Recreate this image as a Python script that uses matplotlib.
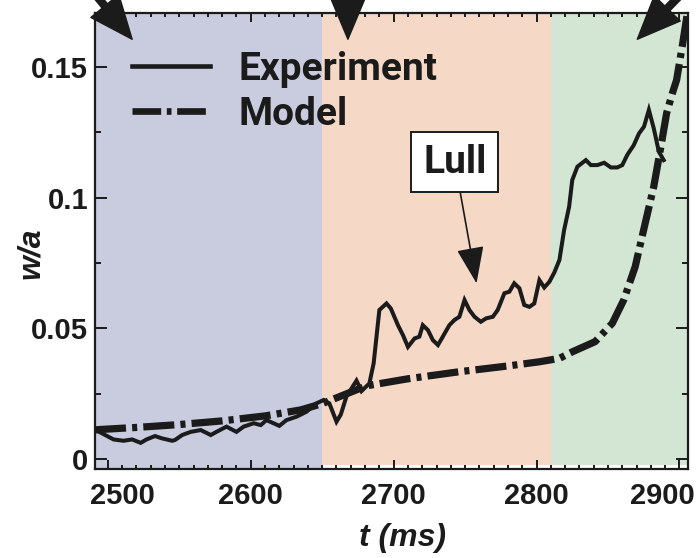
import matplotlib
matplotlib.use("Agg")
import matplotlib.pyplot as plt
import matplotlib.transforms as mtransforms
from matplotlib.lines import Line2D
import numpy as np

# ---------------- data ----------------
exp_t = [2491, 2494, 2504, 2511, 2517, 2523, 2527, 2533, 2538, 2545, 2547, 2552,
         2558, 2565, 2572, 2576, 2583, 2590, 2595, 2602, 2607, 2611, 2620, 2625,
         2632, 2639, 2646, 2651, 2655, 2660, 2663, 2667, 2674, 2677.5, 2683, 2686,
         2688, 2690, 2695, 2698, 2703, 2706.5, 2710, 2714.6, 2718, 2720.4, 2724,
         2727.4, 2731, 2734.4, 2737, 2739, 2742.6, 2746, 2749.6, 2753, 2756.6,
         2761, 2764.7, 2769.4, 2772.8, 2777.5, 2781, 2784.4, 2788, 2791.4, 2795,
         2798.4, 2802, 2805.4, 2809, 2812.4, 2816, 2819.3, 2822.8, 2825, 2828.6,
         2834.5, 2838, 2842.6, 2847.3, 2852, 2856.5, 2860, 2863.5, 2868, 2871.7,
         2875.2, 2878.6, 2882, 2885.6, 2889]
exp_w = [0.0110, 0.0104, 0.0075, 0.0070, 0.0075, 0.0062, 0.0075, 0.0088, 0.0079,
         0.0070, 0.0073, 0.0092, 0.0104, 0.0111, 0.0092, 0.0104, 0.0124, 0.0104,
         0.0124, 0.0137, 0.0130, 0.0149, 0.0127, 0.0149, 0.0162, 0.0181, 0.0213,
         0.0226, 0.0213, 0.0143, 0.0170, 0.0240, 0.0300, 0.0260, 0.0289, 0.0366,
         0.0468, 0.0570, 0.0595, 0.0576, 0.0512, 0.0474, 0.0429, 0.0461, 0.0468,
         0.0512, 0.0493, 0.0455, 0.0436, 0.0468, 0.0493, 0.0512, 0.0532, 0.0544,
         0.0608, 0.0570, 0.0544, 0.0525, 0.0538, 0.0544, 0.0570, 0.0634, 0.0640,
         0.0672, 0.0653, 0.0589, 0.0582, 0.0595, 0.0684, 0.0656, 0.0678, 0.0713,
         0.0761, 0.0876, 0.0965, 0.1067, 0.1118, 0.1143, 0.1124, 0.1124, 0.1133,
         0.1115, 0.1115, 0.1124, 0.1163, 0.1200, 0.1245, 0.1271, 0.1335, 0.1265,
         0.1175, 0.1143]

model_t = [2491, 2520, 2550, 2580, 2610, 2635, 2650, 2665, 2681, 2710, 2746, 2780,
           2802, 2816, 2825, 2841, 2853, 2861, 2869, 2876, 2882, 2887, 2891, 2895,
           2898, 2902, 2906]
model_w = [0.0112, 0.0121, 0.0132, 0.0146, 0.0165, 0.0188, 0.0212, 0.0245, 0.0280,
           0.0307, 0.0334, 0.0356, 0.0372, 0.0385, 0.0410, 0.0449, 0.0519, 0.0608,
           0.0735, 0.0901, 0.1041, 0.1194, 0.1322, 0.1398, 0.1449, 0.1580, 0.1720]

phase_edges = [2491, 2650, 2810, 2906]
phase_colors = ["#C9CBDE", "#F6D8C7", "#D3E6D3"]

x_ticks = [2500, 2600, 2700, 2800, 2900]
x_labels = ["2500", "2600", "2700", "2800", "2900"]
y_ticks = [0, 0.05, 0.1, 0.15]
y_labels = ["0", "0.05", "0.1", "0.15"]

event_t = [2517, 2668, 2870.5]
lull_t, lull_w = 2758, 0.0672

XLIM = (2491, 2906)
YLIM = (-0.0039, 0.1704)

INK = "#1b1b1b"
NARROW = ["Roboto", "DejaVu Sans"]
REG = ["Liberation Sans", "DejaVu Sans"]

fig = plt.figure(figsize=(6.98, 5.58), dpi=100)
ax = fig.add_axes([0.1361, 0.159, 0.8496, 0.817])

# shaded phases
for i, c in enumerate(phase_colors):
    lo = YLIM[0] if i == 0 else -0.0023
    ax.fill_between([phase_edges[i], phase_edges[i + 1]], lo, YLIM[1],
                    color=c, lw=0, zorder=0)

ax.plot(exp_t, exp_w, color=INK, lw=2.9, solid_joinstyle="miter", zorder=3,
        label="Experiment")
ax.plot(model_t, model_w, color=INK, lw=5.2, dash_capstyle="butt",
        linestyle=(0, (4.3, 0.85, 0.7, 0.85)), zorder=3, label="Model")

ax.set_xlim(*XLIM)
ax.set_ylim(*YLIM)

ax.set_xticks(x_ticks, labels=x_labels)
ax.set_xticks(np.arange(2500, 2906, 10), minor=True)
ax.set_yticks(y_ticks, labels=y_labels)
ax.set_yticks([0.025, 0.075, 0.125], minor=True)

ax.tick_params(which="both", direction="in", top=True, right=True,
               width=1.4, color=INK)
ax.tick_params(axis="x", which="major", length=6.5, pad=9)
ax.tick_params(axis="x", which="minor", length=3.2)
ax.tick_params(axis="y", which="major", length=8.6, pad=5)
ax.tick_params(axis="y", which="minor", length=4.3)
for s in ax.spines.values():
    s.set_linewidth(1.6)
    s.set_color(INK)

for lab in ax.get_xticklabels() + ax.get_yticklabels():
    lab.set_fontfamily(REG)
    lab.set_fontweight("bold")
    lab.set_fontsize(21)
    lab.set_color(INK)

# nudge the edge x tick labels as in the original
xl = ax.get_xticklabels()
xl[0].set_transform(xl[0].get_transform() +
                    mtransforms.ScaledTranslation(15 / 100, 0, fig.dpi_scale_trans))
xl[-1].set_transform(xl[-1].get_transform() +
                     mtransforms.ScaledTranslation(-17 / 100, 0, fig.dpi_scale_trans))

ax.set_xlabel("t (ms)", fontsize=23, fontweight="bold", style="italic",
              family=REG, color=INK)
ax.xaxis.set_label_coords(0.519, -0.118)
ax.set_ylabel("w/a", fontsize=23, fontweight="bold", style="italic",
              family=REG, color=INK, va="center")
ax.yaxis.set_label_coords(-0.108, 0.474)

# legend
handles = [Line2D([], [], color=INK, lw=3.3),
           Line2D([], [], color=INK, lw=4.8, dash_capstyle="butt",
                  linestyle=(0, (4.3, 0.85, 0.7, 0.85)))]
leg = ax.legend(handles, ["Experiment", "Model"], loc="center left",
                bbox_to_anchor=(0.062, 0.828), frameon=False, borderpad=0,
                borderaxespad=0, handlelength=2.0, handletextpad=0.75,
                labelspacing=0.2,
                prop=dict(family=NARROW, weight="bold", size=28))
for t in leg.get_texts():
    t.set_color(INK)

# event arrows above the axes
tails = [(2481.4, 0.1842), (2668, 0.1908), (2909.3, 0.1823)]
for tx, (sx, sy) in zip(event_t, tails):
    ax.annotate("", xy=(tx, 0.1605), xytext=(sx, sy), annotation_clip=False,
                arrowprops=dict(facecolor=INK, edgecolor=INK, width=5,
                                headwidth=26, headlength=31, shrink=0),
                zorder=5)

# Lull annotation
ax.annotate("Lull", xy=(lull_t, lull_w), xytext=(2742.8, 0.1135),
            ha="center", va="center", fontsize=28, fontweight="bold",
            family=NARROW, color=INK,
            bbox=dict(boxstyle="square,pad=0.3", fc="white", ec=INK, lw=1.4),
            arrowprops=dict(arrowstyle="-|>,head_length=1.15,head_width=0.43",
                            mutation_scale=20, color=INK, lw=1.2,
                            shrinkA=0, shrinkB=0),
            zorder=6)

fig.savefig("out.png", dpi=100)
